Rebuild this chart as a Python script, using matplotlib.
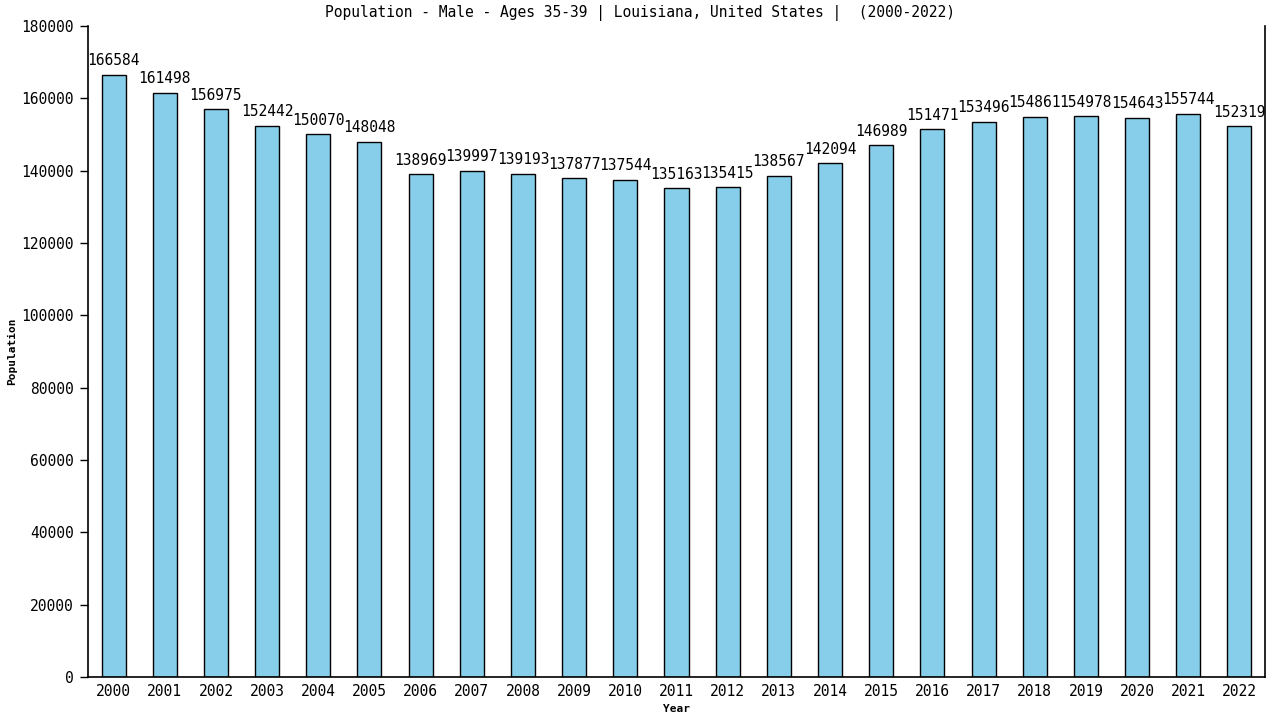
import matplotlib
matplotlib.use("Agg")
import matplotlib.pyplot as plt

years = [str(y) for y in range(2000, 2023)]
values = [166584, 161498, 156975, 152442, 150070, 148048, 138969, 139997, 139193,
          137877, 137544, 135163, 135415, 138567, 142094, 146989, 151471, 153496,
          154861, 154978, 154643, 155744, 152319]
yticks = list(range(0, 180001, 20000))

plt.rcParams['font.family'] = ['DejaVu Sans Mono']

fig = plt.figure(figsize=(12.8, 7.2), dpi=100)
ax = fig.add_axes([88/1280, 43/720, (1265-88)/1280, (677-26)/720])
x = list(range(len(years)))
ax.bar(x, values, width=0.47, color='#87CEEB', edgecolor='black', linewidth=1.0)
for xi, v in zip(x, values):
    ax.text(xi, v + 1800, str(v), ha='center', va='bottom', fontsize=10.5, color='black')

ax.set_xlim(-0.5, 22.5)
ax.set_ylim(0, 180000)
ax.set_xticks(x)
ax.set_xticklabels(years, fontsize=10.5)
ax.set_yticks(yticks)
ax.set_yticklabels([str(t) for t in yticks], fontsize=10.5)
ax.tick_params(axis='x', length=0, pad=5)
ax.tick_params(axis='y', length=6, width=1, pad=4)
ax.spines['top'].set_visible(False)
for s in ['left', 'bottom', 'right']:
    ax.spines[s].set_linewidth(1.2)
fig.text(0.5, 1 - 13/720,
         'Population - Male - Ages 35-39 | Louisiana, United States |  (2000-2022)',
         ha='center', va='center', fontsize=10.5)
ax.set_xlabel('Year', fontsize=8, fontweight='bold')
ax.set_ylabel('Population', fontsize=8, fontweight='bold')
ax.yaxis.set_label_coords((12 - 88) / 1177, 0.5)
ax.xaxis.set_label_coords(0.5, (677 - 709) / 651)
ax.xaxis.label.set_va('center')
ax.yaxis.label.set_va('center')

fig.savefig('out.png', dpi=100)
